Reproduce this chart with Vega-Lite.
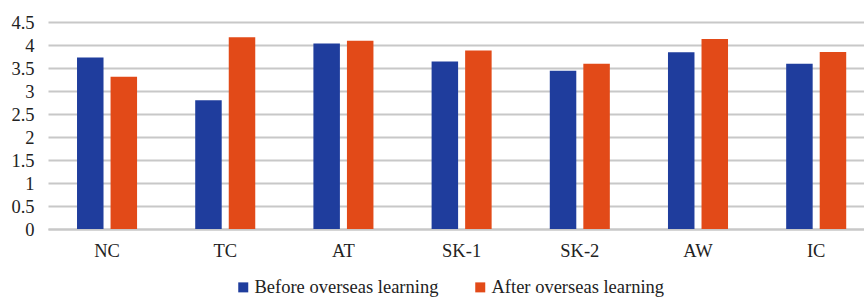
{
  "$schema": "https://vega.github.io/schema/vega-lite/v6.json",
  "width": 816,
  "height": 207,
  "autosize": {"type": "none"},
  "padding": {"left": 48, "top": 22, "right": 0, "bottom": 68},
  "background": "white",
  "config": {
    "font": "Liberation Serif",
    "view": {"stroke": null},
    "axis": {"labelFont": "Liberation Serif", "labelFontSize": 18.5, "labelColor": "#222222"},
    "legend": {"labelFont": "Liberation Serif", "labelFontSize": 18.5, "labelColor": "#222222", "labelLimit": 0}
  },
  "data": {
    "values": [
      {"dim": "NC", "group": "Before overseas learning", "score": 3.73},
      {"dim": "NC", "group": "After overseas learning", "score": 3.31},
      {"dim": "TC", "group": "Before overseas learning", "score": 2.80},
      {"dim": "TC", "group": "After overseas learning", "score": 4.17},
      {"dim": "AT", "group": "Before overseas learning", "score": 4.03},
      {"dim": "AT", "group": "After overseas learning", "score": 4.09},
      {"dim": "SK-1", "group": "Before overseas learning", "score": 3.64},
      {"dim": "SK-1", "group": "After overseas learning", "score": 3.88},
      {"dim": "SK-2", "group": "Before overseas learning", "score": 3.44},
      {"dim": "SK-2", "group": "After overseas learning", "score": 3.59},
      {"dim": "AW", "group": "Before overseas learning", "score": 3.84},
      {"dim": "AW", "group": "After overseas learning", "score": 4.13},
      {"dim": "IC", "group": "Before overseas learning", "score": 3.59},
      {"dim": "IC", "group": "After overseas learning", "score": 3.85}
    ]
  },
  "mark": {"type": "bar"},
  "encoding": {
    "x": {
      "field": "dim",
      "type": "nominal",
      "sort": ["NC", "TC", "AT", "SK-1", "SK-2", "AW", "IC"],
      "scale": {"paddingInner": 0.492, "paddingOuter": 0.198, "align": 0.62},
      "axis": {
        "title": null,
        "labelAngle": 0,
        "ticks": false,
        "domain": true,
        "domainColor": "#c8c8c8",
        "domainWidth": 2,
        "labelPadding": 12,
        "labelFont": "Liberation Serif"
      }
    },
    "xOffset": {
      "field": "group",
      "type": "nominal",
      "sort": ["Before overseas learning", "After overseas learning"],
      "scale": {"paddingInner": 0.21, "paddingOuter": 0}
    },
    "y": {
      "field": "score",
      "type": "quantitative",
      "scale": {"domain": [0, 4.5], "nice": false},
      "axis": {
        "title": null,
        "values": [0, 0.5, 1, 1.5, 2, 2.5, 3, 3.5, 4, 4.5],
        "format": "~g",
        "domain": false,
        "ticks": false,
        "labelPadding": 14,
        "labelFont": "Liberation Serif",
        "gridColor": "#c8c8c8",
        "gridWidth": 2
      }
    },
    "color": {
      "field": "group",
      "type": "nominal",
      "sort": ["Before overseas learning", "After overseas learning"],
      "scale": {
        "domain": ["Before overseas learning", "After overseas learning"],
        "range": ["#1f3d9d", "#e24a18"]
      },
      "legend": {
        "title": null,
        "orient": "none",
        "legendX": 186,
        "legendY": 256,
        "direction": "horizontal",
        "symbolType": "square",
        "symbolSize": 100,
        "symbolStrokeWidth": 0,
        "labelOffset": 2,
        "labelLimit": 0,
        "labelFont": "Liberation Serif",
        "columnPadding": 32
      }
    }
  }
}
